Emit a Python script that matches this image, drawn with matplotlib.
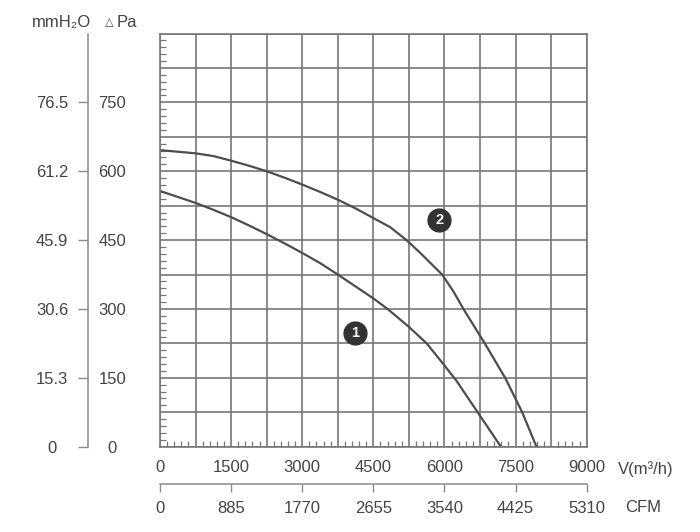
import matplotlib.pyplot as plt
from matplotlib.ticker import MultipleLocator, FixedLocator, FuncFormatter

plt.rcParams['font.family'] = ['Liberation Sans', 'DejaVu Sans']

# fan curves (m3/h, Pa)
flow_1 = [0, 750, 1125, 1500, 1875, 2250, 2625, 3000, 3375, 3750, 4125, 4500,
          4800, 5250, 5625, 6000, 6250, 6700, 7190]
pres_1 = [557, 531, 516, 500, 482, 463, 443, 422, 400, 375, 349, 323,
          300, 261, 225, 177, 144, 75, 0]

flow_2 = [0, 750, 1125, 1500, 1875, 2250, 2625, 3000, 3375, 3750, 4125, 4500,
          4857, 5200, 5490, 5950, 6190, 6400, 6850, 7280, 7640, 7940]
pres_2 = [646, 639, 633, 623, 612, 600, 586, 571, 555, 538, 519, 498,
          478, 450, 422, 375, 338, 300, 225, 150, 75, 0]

badge_names = ['1', '2']
badge_x = [4110, 5890]
badge_y = [248, 493]

pa_ticks = [0, 150, 300, 450, 600, 750]
mmh2o_labels = ['0', '15.3', '30.6', '45.9', '61.2', '76.5']
cfm_ticks = [0, 885, 1770, 2655, 3540, 4425, 5310]

TXT = '#444444'
GRID = '#777777'
LINE = '#4d4d4d'
FS = 12

W, H = 700, 532
fig = plt.figure(figsize=(7, 5.32), dpi=100)

x0, x1 = 160, 586.7
y0, y1 = 446.7, 33.5
rect = [x0 / W, 1 - y0 / H, (x1 - x0) / W, (y0 - y1) / H]
ax = fig.add_axes(rect)
ax.set_xlim(0, 9000)
ax.set_ylim(0, 900)

ax.xaxis.set_major_locator(MultipleLocator(750))
ax.yaxis.set_major_locator(MultipleLocator(75))
ax.xaxis.set_minor_locator(MultipleLocator(150))
ax.yaxis.set_minor_locator(MultipleLocator(15))
ax.xaxis.set_major_formatter(FuncFormatter(lambda v, p: f'{v:.0f}' if v % 1500 == 0 else ''))
ax.yaxis.set_major_formatter(FuncFormatter(lambda v, p: ''))
ax.grid(True, which='major', color=GRID, lw=1.2)
ax.tick_params(which='major', length=0)
ax.tick_params(axis='x', which='major', pad=9.5, labelsize=FS, labelcolor=TXT)
ax.tick_params(which='minor', direction='in', length=4.5, width=0.9, color=GRID)
for s in ax.spines.values():
    s.set_color(GRID)
    s.set_linewidth(1.2)
ax.set_axisbelow(True)

ax.plot(flow_1, pres_1, color=LINE, lw=1.6)
ax.plot(flow_2, pres_2, color=LINE, lw=1.6)

ax.scatter(badge_x, badge_y, s=270, color='#333333', zorder=5)
for n, bx, by in zip(badge_names, badge_x, badge_y):
    ax.text(bx, by, n, color='white', ha='center', va='center', fontsize=10.5,
            fontweight='bold', zorder=6)

# left pressure axis (mmH2O / Pa)
axl = fig.add_axes([88.3 / W, rect[1], 0.0005, rect[3]])
axl.set_ylim(0, 900)
axl.set_xticks([])
for k in ['top', 'right', 'bottom']:
    axl.spines[k].set_visible(False)
axl.spines['left'].set_color('#8a8a8a')
axl.spines['left'].set_linewidth(1.1)
axl.yaxis.set_major_locator(FixedLocator(pa_ticks))
axl.set_yticklabels(mmh2o_labels)
axl.tick_params(axis='y', direction='out', length=7, width=1, color='#8a8a8a',
                pad=19, labelsize=FS, labelcolor=TXT)
for lab in axl.get_yticklabels():
    lab.set_horizontalalignment('center')
axl.patch.set_visible(False)

axr = axl.twinx()
axr.set_ylim(0, 900)
axr.yaxis.set_major_locator(FixedLocator(pa_ticks))
axr.set_yticklabels([str(v) for v in pa_ticks])
axr.tick_params(axis='y', length=0, pad=17, labelsize=FS, labelcolor=TXT)
for lab in axr.get_yticklabels():
    lab.set_horizontalalignment('center')
for s in axr.spines.values():
    s.set_visible(False)

# CFM axis under the chart
axc = fig.add_axes([rect[0], 1 - 484 / H, rect[2], 0.0005])
axc.set_xlim(0, 5310)
axc.set_yticks([])
for k in ['top', 'right', 'left']:
    axc.spines[k].set_visible(False)
axc.spines['bottom'].set_color('#8a8a8a')
axc.spines['bottom'].set_linewidth(1.1)
axc.set_xticks(cfm_ticks)
axc.tick_params(axis='x', direction='out', length=6, width=1, color='#8a8a8a',
                pad=6, labelsize=FS, labelcolor=TXT)
axc.patch.set_visible(False)

fig.text(32 / W, 1 - 22.5 / H, 'mmH₂O', fontsize=FS, color=TXT, va='center')
fig.text(105 / W, 1 - 22.5 / H, '△', fontsize=8, color=TXT, va='center',
         family=['DejaVu Sans'])
fig.text(117 / W, 1 - 22.5 / H, 'Pa', fontsize=FS, color=TXT, va='center')
fig.text(618 / W, 1 - 469 / H, 'V(m³/h)', fontsize=FS, color=TXT, va='center')
fig.text(625 / W, 1 - 508 / H, 'CFM', fontsize=FS, color=TXT, va='center')

fig.savefig('out.png', dpi=100, facecolor='white')
